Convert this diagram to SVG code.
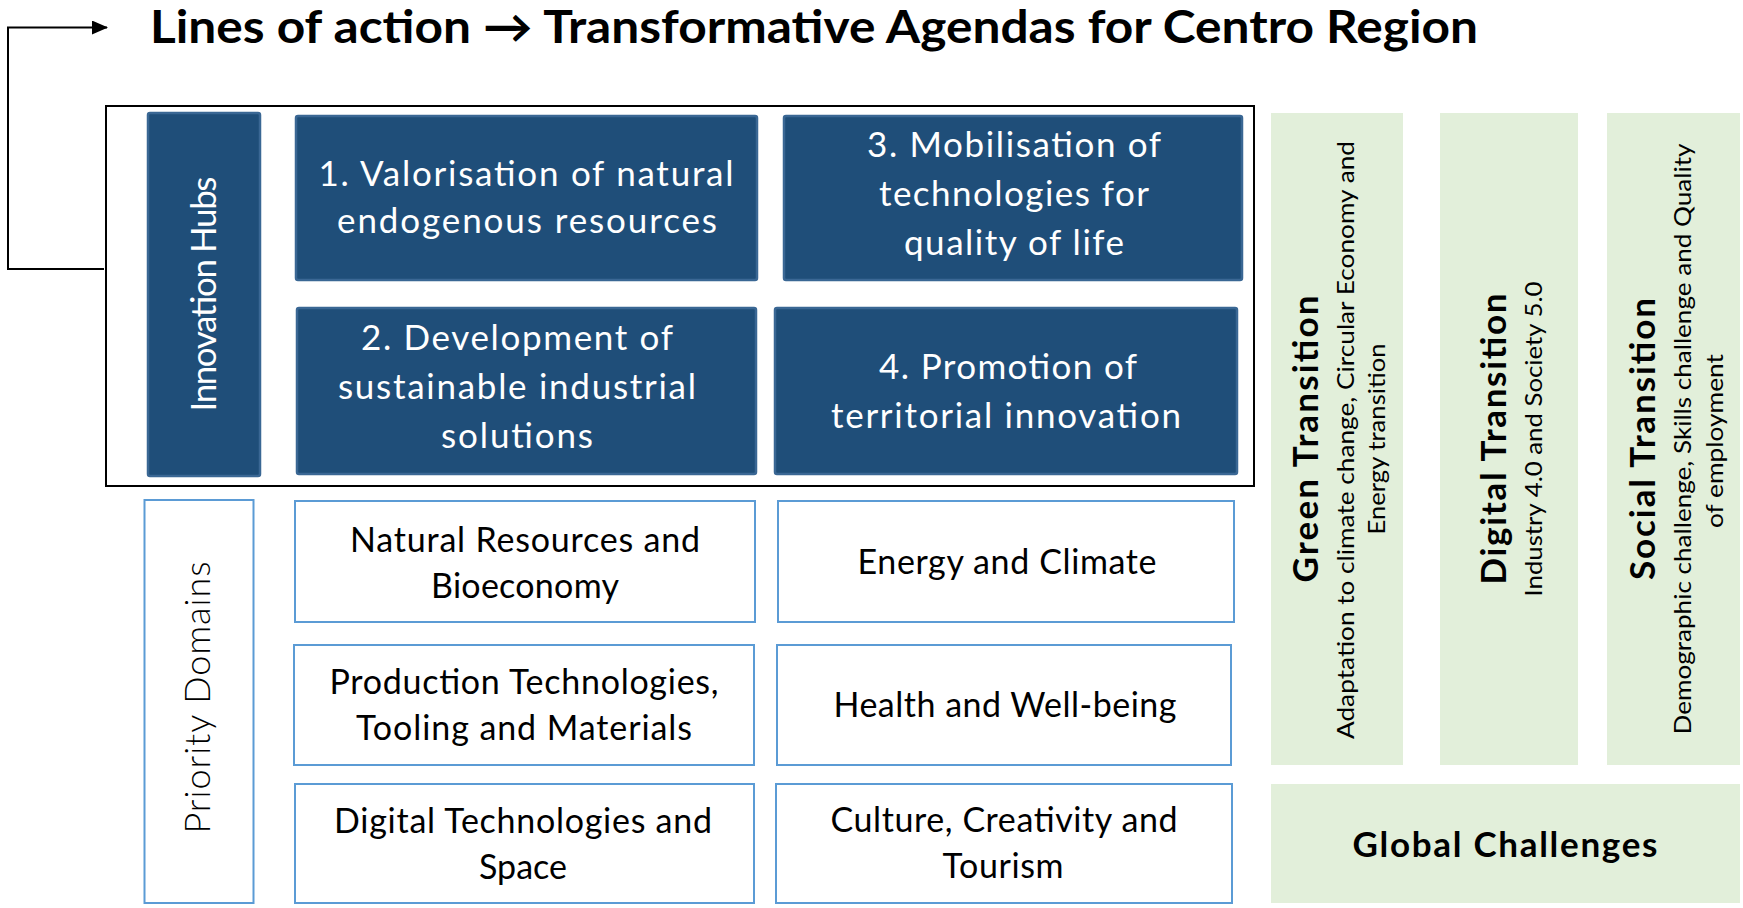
<svg xmlns="http://www.w3.org/2000/svg" width="1743" height="908" viewBox="0 0 1743 908">
<defs>
<marker id="arr" markerWidth="16" markerHeight="14" refX="15" refY="7" orient="auto" markerUnits="userSpaceOnUse">
<path d="M0,0 L16,7 L0,14 Z" fill="#000"/>
</marker>
<style>
.hub{fill:#1F4E79;stroke:#3A6794;stroke-width:2.5}
.dom{fill:#fff;stroke:#5B9BD5;stroke-width:2}
.gc{fill:#E2EFDA}
.t{font-family:Lato,"Liberation Sans",sans-serif}
.w{fill:#fff;font-size:35px;text-anchor:middle}
.b{fill:#000;font-size:34px;text-anchor:middle}
.bold{font-weight:bold;fill:#000;text-anchor:middle}
.sub{fill:#000;font-size:23px;text-anchor:middle}
</style>
</defs>
<rect width="1743" height="908" fill="#fff"/>
<text class="t" x="150" y="43" font-size="46" font-weight="bold" fill="#000" textLength="1328" lengthAdjust="spacingAndGlyphs">Lines of action → Transformative Agendas for Centro Region</text>
<g id="connectors" fill="none" stroke="#000" stroke-width="2">
<polyline points="104,269 8,269 8,27.5 107,27.5" marker-end="url(#arr)"/>
</g>
<g id="lines-frame"><rect x="106" y="106" width="1148" height="380" fill="none" stroke="#000" stroke-width="2"/></g>
<g id="innovation-hubs">
<rect class="hub" x="148" y="113" width="112" height="363" rx="2"/>
<text class="t w" transform="translate(216,294) rotate(-90)" font-size="32" textLength="235">Innovation Hubs</text>
</g>
<g id="hub1">
<rect class="hub" x="296" y="116" width="461" height="164" rx="2"/>
<text class="t w" x="526" y="186" textLength="415">1. Valorisation of natural</text>
<text class="t w" x="527" y="233" textLength="380">endogenous resources</text>
</g>
<g id="hub3">
<rect class="hub" x="784" y="116" width="458" height="164" rx="2"/>
<text class="t w" x="1014" y="157" textLength="294">3. Mobilisation of</text>
<text class="t w" x="1014" y="206" textLength="270">technologies for</text>
<text class="t w" x="1014" y="255" textLength="220">quality of life</text>
</g>
<g id="hub2">
<rect class="hub" x="297" y="308" width="459" height="166" rx="2"/>
<text class="t w" x="517" y="350" textLength="312">2. Development of</text>
<text class="t w" x="517" y="399" textLength="358">sustainable industrial</text>
<text class="t w" x="517" y="448" textLength="152">solutions</text>
</g>
<g id="hub4">
<rect class="hub" x="775" y="308" width="462" height="166" rx="2"/>
<text class="t w" x="1008" y="379" textLength="258">4. Promotion of</text>
<text class="t w" x="1006" y="428" textLength="350">territorial innovation</text>
</g>
<g id="priority-domains">
<rect class="dom" x="144.5" y="500" width="109" height="403"/>
<text class="t" transform="translate(210,697.5) rotate(-90)" font-size="36" font-weight="300" fill="#000" text-anchor="middle" textLength="272">Priority Domains</text>
</g>
<g id="dom-natural">
<rect class="dom" x="295" y="501" width="460" height="121"/>
<text class="t b" x="525" y="552" textLength="350">Natural Resources and</text>
<text class="t b" x="525" y="598" textLength="188">Bioeconomy</text>
</g>
<g id="dom-energy">
<rect class="dom" x="778" y="501" width="456" height="121"/>
<text class="t b" x="1007" y="574" textLength="299">Energy and Climate</text>
</g>
<g id="dom-production">
<rect class="dom" x="294" y="645" width="460" height="120"/>
<text class="t b" x="524" y="694" textLength="389">Production Technologies,</text>
<text class="t b" x="524" y="740" textLength="336">Tooling and Materials</text>
</g>
<g id="dom-health">
<rect class="dom" x="777" y="645" width="454" height="120"/>
<text class="t b" x="1005" y="717" textLength="343">Health and Well-being</text>
</g>
<g id="dom-digital">
<rect class="dom" x="295" y="784" width="459" height="119"/>
<text class="t b" x="523" y="833" textLength="378">Digital Technologies and</text>
<text class="t b" x="523" y="879" textLength="88">Space</text>
</g>
<g id="dom-culture">
<rect class="dom" x="776" y="784" width="456" height="119"/>
<text class="t b" x="1004" y="832" textLength="347">Culture, Creativity and</text>
<text class="t b" x="1003" y="878" textLength="121">Tourism</text>
</g>
<g id="green-transition">
<rect class="gc" x="1271" y="113" width="132" height="652"/>
<text class="t bold" transform="translate(1318,439) rotate(-90)" font-size="35" textLength="287">Green Transition</text>
<text class="t sub" transform="translate(1354,440) rotate(-90)" textLength="598" lengthAdjust="spacingAndGlyphs">Adaptation to climate change, Circular Economy and</text>
<text class="t sub" transform="translate(1385,439) rotate(-90)" textLength="191" lengthAdjust="spacingAndGlyphs">Energy transition</text>
</g>
<g id="digital-transition">
<rect class="gc" x="1440" y="113" width="138" height="652"/>
<text class="t bold" transform="translate(1506,439) rotate(-90)" font-size="35" textLength="291">Digital Transition</text>
<text class="t sub" transform="translate(1542,439) rotate(-90)" textLength="315" lengthAdjust="spacingAndGlyphs">Industry 4.0 and Society 5.0</text>
</g>
<g id="social-transition">
<rect class="gc" x="1607" y="113" width="133" height="652"/>
<text class="t bold" transform="translate(1655,439) rotate(-90)" font-size="35" textLength="282">Social Transition</text>
<text class="t sub" transform="translate(1691,439) rotate(-90)" textLength="591" lengthAdjust="spacingAndGlyphs">Demographic challenge, Skills challenge and Quality</text>
<text class="t sub" transform="translate(1723,441) rotate(-90)" textLength="174" lengthAdjust="spacingAndGlyphs">of employment</text>
</g>
<g id="global-challenges">
<rect class="gc" x="1271" y="784" width="469" height="119"/>
<text class="t bold" x="1505" y="857" font-size="35" textLength="305">Global Challenges</text>
</g>
</svg>
